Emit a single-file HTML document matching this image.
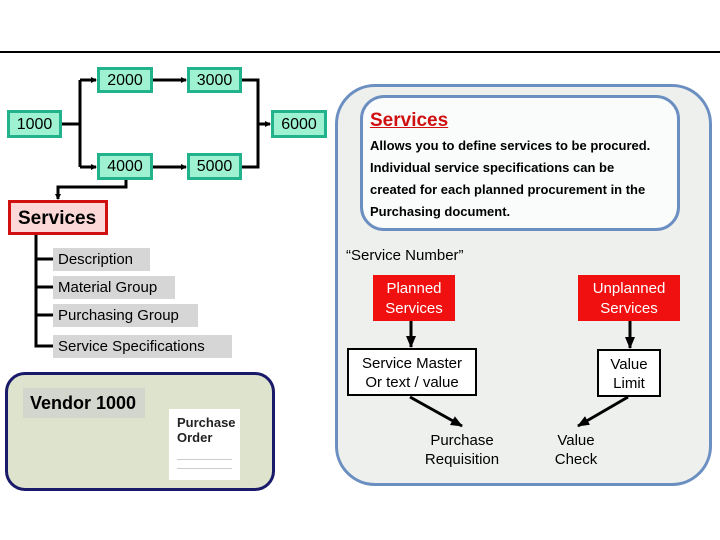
<!DOCTYPE html>
<html><head><meta charset="utf-8"><style>
body{margin:0;width:720px;height:540px;background:#fff;position:relative;overflow:hidden;font-family:"Liberation Sans",Arial,sans-serif}
.a{position:absolute;box-sizing:border-box}
.g{background:#9ef2d2;border:3px solid #22b38c;font-size:16px;text-align:center;line-height:22px}
.lab{background:#d6d6d6;font-size:15px;padding-left:5px;line-height:23px}
.red{background:#f01010;color:#fff;font-size:15px;text-align:center;line-height:20px;padding-top:4px}
.bx{border:2px solid #000;background:#fff;font-size:15px;text-align:center;line-height:19px;padding-top:4px}
.t{font-size:15px;text-align:center;line-height:19px}
</style></head><body>
<div class="a" style="left:0;top:51px;width:720px;height:2px;background:#000"></div>
<div class="a" style="left:335px;top:84px;width:377px;height:402px;border:3px solid #6c8fc2;border-radius:40px;background:#eef0ee"></div>
<div class="a" style="left:360px;top:95px;width:320px;height:136px;border:3px solid #6c8fc2;border-radius:24px;background:#fafcfb"></div>
<div class="a" style="left:370px;top:110px;font-size:19px;font-weight:bold;color:#d01010;text-decoration:underline">Services</div>
<div class="a" style="left:370px;top:135px;font-size:13px;font-weight:bold;line-height:22px;width:310px">Allows you to define services to be procured.<br>Individual service specifications can be<br>created for each planned procurement in the<br>Purchasing document.</div>
<div class="a" style="left:346px;top:247px;font-size:15px">“Service Number”</div>
<div class="a red" style="left:373px;top:275px;width:82px;height:46px">Planned<br>Services</div>
<div class="a red" style="left:578px;top:275px;width:102px;height:46px">Unplanned<br>Services</div>
<div class="a bx" style="left:347px;top:348px;width:130px;height:48px">Service Master<br>Or text / value</div>
<div class="a bx" style="left:597px;top:349px;width:64px;height:48px">Value<br>Limit</div>
<div class="a t" style="left:402px;top:431px;width:120px">Purchase<br>Requisition</div>
<div class="a t" style="left:548px;top:431px;width:56px">Value<br>Check</div>

<div class="a g" style="left:97px;top:67px;width:56px;height:26px">2000</div>
<div class="a g" style="left:187px;top:67px;width:55px;height:26px">3000</div>
<div class="a g" style="left:7px;top:110px;width:55px;height:28px;line-height:23px">1000</div>
<div class="a g" style="left:271px;top:110px;width:56px;height:28px;line-height:23px">6000</div>
<div class="a g" style="left:97px;top:153px;width:56px;height:27px">4000</div>
<div class="a g" style="left:187px;top:153px;width:55px;height:27px">5000</div>
<div class="a" style="left:8px;top:200px;width:100px;height:35px;background:#fcd8d8;border:3px solid #d01010;font-size:19px;font-weight:bold;line-height:31px;padding-left:7px">Services</div>
<div class="a lab" style="left:53px;top:248px;width:97px">Description</div>
<div class="a lab" style="left:53px;top:276px;width:122px">Material Group</div>
<div class="a lab" style="left:53px;top:304px;width:145px">Purchasing Group</div>
<div class="a lab" style="left:53px;top:335px;width:179px">Service Specifications</div>
<div class="a" style="left:5px;top:372px;width:270px;height:119px;background:#dde3cc;border:3px solid #1a1a6a;border-radius:20px"></div>
<div class="a" style="left:23px;top:388px;width:122px;height:30px;background:#d3d6cc;font-size:18px;font-weight:bold;line-height:31px;padding-left:7px">Vendor 1000</div>
<div class="a" style="left:169px;top:409px;width:71px;height:71px;background:#fff;font-size:13px;font-weight:bold;line-height:15px;padding:6px 0 0 8px;color:#222">Purchase<br>Order
<div style="margin-top:14px;border-top:1px solid #ccc;width:55px"></div><div style="margin-top:8px;border-top:1px solid #ccc;width:55px"></div></div>

<svg class="a" style="left:0;top:0" width="720" height="540">
<defs><marker id="m" markerWidth="6" markerHeight="6" refX="5" refY="3" orient="auto" markerUnits="userSpaceOnUse"><path d="M0,0L6,3L0,6z"/></marker>
<marker id="mb" markerWidth="12" markerHeight="10" refX="11" refY="5" orient="auto" markerUnits="userSpaceOnUse"><path d="M0,0L12,5L0,10z"/></marker></defs>
<g stroke="#000" stroke-width="3" fill="none">
<path d="M62,124H80"/><path d="M80,80V167"/>
<path d="M80,80H96" marker-end="url(#m)"/><path d="M80,167H96" marker-end="url(#m)"/>
<path d="M153,80H186" marker-end="url(#m)"/><path d="M153,167H186" marker-end="url(#m)"/>
<path d="M242,80H258V167H242"/><path d="M258,124H270" marker-end="url(#m)"/>
<path d="M126,180V187H58V199" marker-end="url(#m)"/>
<path d="M36,235V346H53M36,259H53M36,287H53M36,315H53"/>
<path d="M411,321V347" marker-end="url(#mb)"/>
<path d="M630,321V348" marker-end="url(#mb)"/>
<path d="M410,397L462,426" marker-end="url(#mb)"/>
<path d="M628,397L578,426" marker-end="url(#mb)"/>
</g></svg>
</body></html>
